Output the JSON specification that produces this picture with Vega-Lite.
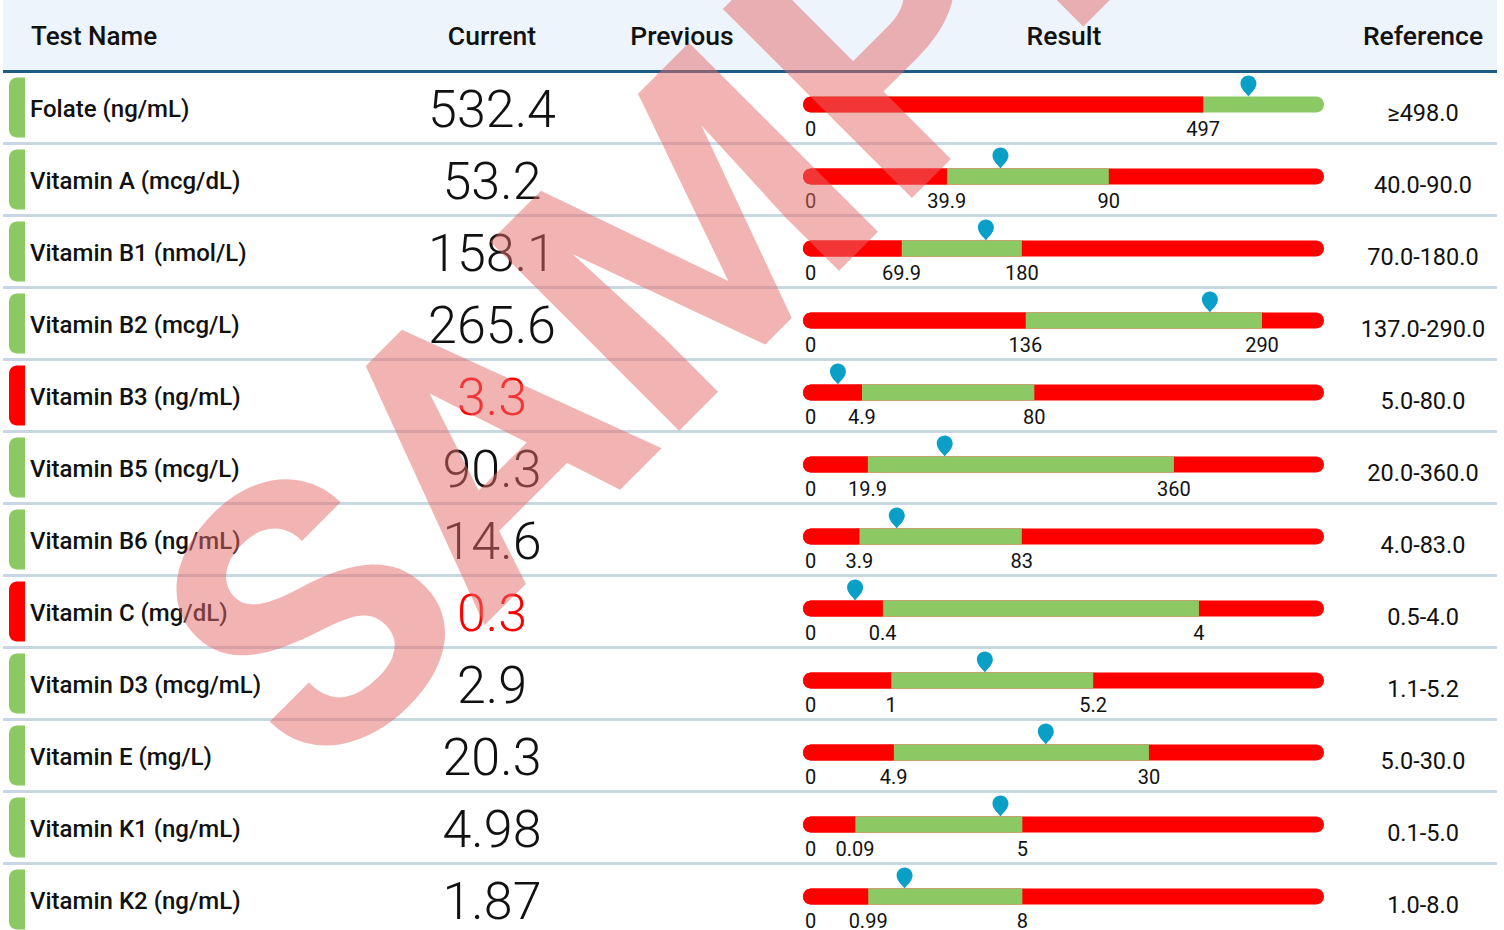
{
  "$schema": "https://vega.github.io/schema/vega-lite/v6.json",
  "width": 1504,
  "height": 930,
  "padding": 0,
  "autosize": "none",
  "background": "#ffffff",
  "config": {"view": {"stroke": null}, "font": "Roboto"},
  "datasets": {
    "header": [
      {"r": "H", "col": "Test Name", "ci": 3},
      {"r": "H", "col": "Current", "ci": 4},
      {"r": "H", "col": "Previous", "ci": 5},
      {"r": "H", "col": "Result", "ci": 6},
      {"r": "H", "col": "Reference", "ci": 7}
    ],
    "tests": [
      {"r": "Folate (ng/mL)", "current": 532.4, "flag": "normal", "lo": 497, "hi": null, "lo_pos": 76.8, "hi_pos": null, "mark_pos": 85.5, "reference": "≥498.0"},
      {"r": "Vitamin A (mcg/dL)", "current": 53.2, "flag": "normal", "lo": 39.9, "hi": 90, "lo_pos": 27.6, "hi_pos": 58.7, "mark_pos": 37.9, "reference": "40.0-90.0"},
      {"r": "Vitamin B1 (nmol/L)", "current": 158.1, "flag": "normal", "lo": 69.9, "hi": 180, "lo_pos": 18.9, "hi_pos": 42.0, "mark_pos": 35.1, "reference": "70.0-180.0"},
      {"r": "Vitamin B2 (mcg/L)", "current": 265.6, "flag": "normal", "lo": 136, "hi": 290, "lo_pos": 42.7, "hi_pos": 88.1, "mark_pos": 78.1, "reference": "137.0-290.0"},
      {"r": "Vitamin B3 (ng/mL)", "current": 3.3, "flag": "low", "lo": 4.9, "hi": 80, "lo_pos": 11.3, "hi_pos": 44.4, "mark_pos": 6.7, "reference": "5.0-80.0"},
      {"r": "Vitamin B5 (mcg/L)", "current": 90.3, "flag": "normal", "lo": 19.9, "hi": 360, "lo_pos": 12.4, "hi_pos": 71.2, "mark_pos": 27.2, "reference": "20.0-360.0"},
      {"r": "Vitamin B6 (ng/mL)", "current": 14.6, "flag": "normal", "lo": 3.9, "hi": 83, "lo_pos": 10.8, "hi_pos": 42.0, "mark_pos": 18.0, "reference": "4.0-83.0"},
      {"r": "Vitamin C (mg/dL)", "current": 0.3, "flag": "low", "lo": 0.4, "hi": 4, "lo_pos": 15.3, "hi_pos": 76.0, "mark_pos": 10.0, "reference": "0.5-4.0"},
      {"r": "Vitamin D3 (mcg/mL)", "current": 2.9, "flag": "normal", "lo": 1, "hi": 5.2, "lo_pos": 16.9, "hi_pos": 55.7, "mark_pos": 34.9, "reference": "1.1-5.2"},
      {"r": "Vitamin E (mg/L)", "current": 20.3, "flag": "normal", "lo": 4.9, "hi": 30, "lo_pos": 17.4, "hi_pos": 66.4, "mark_pos": 46.6, "reference": "5.0-30.0"},
      {"r": "Vitamin K1 (ng/mL)", "current": 4.98, "flag": "normal", "lo": 0.09, "hi": 5, "lo_pos": 10.0, "hi_pos": 42.1, "mark_pos": 37.9, "reference": "0.1-5.0"},
      {"r": "Vitamin K2 (ng/mL)", "current": 1.87, "flag": "normal", "lo": 0.99, "hi": 8, "lo_pos": 12.5, "hi_pos": 42.1, "mark_pos": 19.5, "reference": "1.0-8.0"}
    ]
  },
  "resolve": {"scale": {"x": "independent"}},
  "layer": [
    {
      "data": {"name": "header"},
      "transform": [{"filter": "datum.ci == 3"}],
      "mark": {"type": "bar", "color": "#EDF4FC"},
      "encoding": {
        "y": {"field": "r", "type": "nominal", "axis": null, "scale": {"domain": ["H", "Folate (ng/mL)", "Vitamin A (mcg/dL)", "Vitamin B1 (nmol/L)", "Vitamin B2 (mcg/L)", "Vitamin B3 (ng/mL)", "Vitamin B5 (mcg/L)", "Vitamin B6 (ng/mL)", "Vitamin C (mg/dL)", "Vitamin D3 (mcg/mL)", "Vitamin E (mg/L)", "Vitamin K1 (ng/mL)", "Vitamin K2 (ng/mL)"], "range": [-0.5, 935.5], "paddingInner": 0, "paddingOuter": 0}},
        "x": {"datum": 0, "type": "quantitative", "axis": null, "scale": {"domain": [0, 1, 2, 3, 4, 5, 6, 7, 8], "range": [3, 9, 25, 31, 493, 682, 1064, 1423, 1497], "nice": false, "zero": false}},
        "x2": {"datum": 8}
      }
    },
    {
      "data": {"name": "tests"},
      "mark": {"type": "rule", "color": "#C8D8E2", "strokeWidth": 3, "yOffset": 36},
      "encoding": {
        "y": {"field": "r", "type": "nominal", "axis": null},
        "x": {"datum": 0, "type": "quantitative", "axis": null, "scale": {"domain": [0, 1, 2, 3, 4, 5, 6, 7, 8], "range": [3, 9, 25, 31, 493, 682, 1064, 1423, 1497], "nice": false, "zero": false}},
        "x2": {"datum": 8}
      }
    },
    {
      "data": {"name": "header"},
      "transform": [{"filter": "datum.ci == 3"}],
      "mark": {"type": "rule", "color": "#1D5B85", "strokeWidth": 3, "yOffset": 36},
      "encoding": {
        "y": {"field": "r", "type": "nominal", "axis": null},
        "x": {"datum": 0, "type": "quantitative", "axis": null, "scale": {"domain": [0, 1, 2, 3, 4, 5, 6, 7, 8], "range": [3, 9, 25, 31, 493, 682, 1064, 1423, 1497], "nice": false, "zero": false}},
        "x2": {"datum": 8}
      }
    },
    {
      "data": {"name": "tests"},
      "mark": {"type": "bar", "height": 60, "cornerRadiusTopLeft": 10, "cornerRadiusBottomLeft": 10},
      "encoding": {
        "y": {"field": "r", "type": "nominal", "axis": null},
        "x": {"datum": 1, "type": "quantitative", "axis": null, "scale": {"domain": [0, 1, 2, 3, 4, 5, 6, 7, 8], "range": [3, 9, 25, 31, 493, 682, 1064, 1423, 1497], "nice": false, "zero": false}},
        "x2": {"datum": 2},
        "color": {"condition": {"test": "datum.flag == 'low'", "value": "#FF0000"}, "value": "#8CC863"}
      }
    },
    {
      "data": {"name": "header"},
      "transform": [{"filter": "datum.ci == 3"}],
      "mark": {"type": "text", "align": "left", "baseline": "alphabetic", "dy": 9.5, "fontSize": 26, "fontWeight": 500, "color": "#111111"},
      "encoding": {
        "y": {"field": "r", "type": "nominal", "axis": null},
        "x": {"field": "ci", "type": "quantitative", "axis": null, "scale": {"domain": [0, 1, 2, 3, 4, 5, 6, 7, 8], "range": [3, 9, 25, 31, 493, 682, 1064, 1423, 1497], "nice": false, "zero": false}},
        "text": {"field": "col", "type": "nominal"}
      }
    },
    {
      "data": {"name": "header"},
      "transform": [{"filter": "datum.ci != 3"}],
      "mark": {"type": "text", "align": "center", "baseline": "alphabetic", "dy": 9.5, "fontSize": 26.5, "fontWeight": 500, "color": "#111111"},
      "encoding": {
        "y": {"field": "r", "type": "nominal", "axis": null},
        "x": {"field": "ci", "type": "quantitative", "axis": null, "scale": {"domain": [0, 1, 2, 3, 4, 5, 6, 7, 8], "range": [3, 9, 25, 31, 492, 682, 1064, 1423, 1497], "nice": false, "zero": false}},
        "text": {"field": "col", "type": "nominal"}
      }
    },
    {
      "data": {"name": "tests"},
      "mark": {"type": "text", "align": "left", "baseline": "alphabetic", "dy": 9.2, "fontSize": 24, "fontWeight": 500, "color": "#111111"},
      "encoding": {
        "y": {"field": "r", "type": "nominal", "axis": null},
        "x": {"datum": 3, "type": "quantitative", "axis": null, "scale": {"domain": [0, 1, 2, 3, 4, 5, 6, 7, 8], "range": [3, 9, 25, 30, 493, 682, 1064, 1423, 1497], "nice": false, "zero": false}},
        "text": {"field": "r", "type": "nominal"}
      }
    },
    {
      "data": {"name": "tests"},
      "mark": {"type": "text", "align": "center", "baseline": "alphabetic", "dy": 19.2, "fontSize": 52, "fontWeight": 300},
      "encoding": {
        "y": {"field": "r", "type": "nominal", "axis": null},
        "x": {"datum": 4, "type": "quantitative", "axis": null, "scale": {"domain": [0, 1, 2, 3, 4, 5, 6, 7, 8], "range": [3, 9, 25, 31, 492, 682, 1064, 1423, 1497], "nice": false, "zero": false}},
        "text": {"field": "current", "type": "nominal"},
        "color": {"condition": {"test": "datum.flag == 'low'", "value": "#FF0000"}, "value": "#111111"}
      }
    },
    {
      "data": {"name": "tests"},
      "mark": {"type": "text", "align": "center", "baseline": "alphabetic", "dy": 13.5, "fontSize": 23.5, "fontWeight": 400, "color": "#111111"},
      "encoding": {
        "y": {"field": "r", "type": "nominal", "axis": null},
        "x": {"datum": 7, "type": "quantitative", "axis": null, "scale": {"domain": [0, 1, 2, 3, 4, 5, 6, 7, 8], "range": [3, 9, 25, 31, 493, 682, 1064, 1423, 1497], "nice": false, "zero": false}},
        "text": {"field": "reference", "type": "nominal"}
      }
    },
    {
      "data": {"name": "tests"},
      "mark": {"type": "bar", "height": 16, "yOffset": -3, "cornerRadius": 8},
      "encoding": {
        "y": {"field": "r", "type": "nominal", "axis": null},
        "x": {"datum": 0, "type": "quantitative", "axis": null, "scale": {"domain": [0, 100], "range": [803, 1324], "nice": false, "zero": false}},
        "x2": {"datum": 100},
        "color": {"condition": {"test": "datum.hi_pos == null", "value": "#8CC863"}, "value": "#FF0000"}
      }
    },
    {
      "data": {"name": "tests"},
      "transform": [{"filter": "datum.hi_pos != null"}],
      "mark": {"type": "bar", "height": 16, "yOffset": -3, "color": "#8CC863"},
      "encoding": {
        "y": {"field": "r", "type": "nominal", "axis": null},
        "x": {"field": "lo_pos", "type": "quantitative", "axis": null, "scale": {"domain": [0, 100], "range": [803, 1324], "nice": false, "zero": false}},
        "x2": {"field": "hi_pos"}
      }
    },
    {
      "data": {"name": "tests"},
      "mark": {"type": "bar", "height": 16, "yOffset": -3, "color": "#FF0000", "cornerRadiusTopLeft": 8, "cornerRadiusBottomLeft": 8},
      "encoding": {
        "y": {"field": "r", "type": "nominal", "axis": null},
        "x": {"field": "lo_pos", "type": "quantitative", "axis": null, "scale": {"domain": [0, 100], "range": [803, 1324], "nice": false, "zero": false}},
        "x2": {"datum": 0}
      }
    },
    {
      "data": {"name": "tests"},
      "mark": {"type": "text", "align": "left", "baseline": "alphabetic", "dx": 2, "dy": 28, "fontSize": 20, "color": "#111111", "text": "0"},
      "encoding": {
        "y": {"field": "r", "type": "nominal", "axis": null},
        "x": {"datum": 0, "type": "quantitative", "axis": null, "scale": {"domain": [0, 100], "range": [803, 1324], "nice": false, "zero": false}}
      }
    },
    {
      "data": {"name": "tests"},
      "mark": {"type": "text", "align": "center", "baseline": "alphabetic", "dy": 28, "fontSize": 20, "color": "#111111"},
      "encoding": {
        "y": {"field": "r", "type": "nominal", "axis": null},
        "x": {"field": "lo_pos", "type": "quantitative", "axis": null, "scale": {"domain": [0, 100], "range": [803, 1324], "nice": false, "zero": false}},
        "text": {"field": "lo", "type": "nominal"}
      }
    },
    {
      "data": {"name": "tests"},
      "transform": [{"filter": "datum.hi != null"}],
      "mark": {"type": "text", "align": "center", "baseline": "alphabetic", "dy": 28, "fontSize": 20, "color": "#111111"},
      "encoding": {
        "y": {"field": "r", "type": "nominal", "axis": null},
        "x": {"field": "hi_pos", "type": "quantitative", "axis": null, "scale": {"domain": [0, 100], "range": [803, 1324], "nice": false, "zero": false}},
        "text": {"field": "hi", "type": "nominal"}
      }
    },
    {
      "data": {"name": "tests"},
      "mark": {"type": "point", "shape": "M0,1 C-0.25,0.62 -0.76,0.3 -0.76,-0.24 A0.76,0.76 0 1 1 0.76,-0.24 C0.76,0.3 0.25,0.62 0,1 Z", "size": 441, "filled": true, "opacity": 1, "color": "#0A9FC7", "yOffset": -21.5},
      "encoding": {
        "y": {"field": "r", "type": "nominal", "axis": null},
        "x": {"field": "mark_pos", "type": "quantitative", "axis": null, "scale": {"domain": [0, 100], "range": [803, 1324], "nice": false, "zero": false}}
      }
    },
    {
      "data": {"values": [{"label": "SAMPLE", "r": "Vitamin B1 (nmol/L)"}]},
      "mark": {"type": "text", "align": "center", "baseline": "middle", "angle": -45, "fontSize": 376, "fontWeight": "bold", "color": "#E66A6A", "opacity": 0.5, "xOffset": 78, "yOffset": -61.5},
      "encoding": {
        "y": {"field": "r", "type": "nominal", "axis": null},
        "x": {"datum": 5, "type": "quantitative", "axis": null, "scale": {"domain": [0, 1, 2, 3, 4, 5, 6, 7, 8], "range": [3, 9, 25, 31, 493, 682, 1064, 1423, 1497], "nice": false, "zero": false}},
        "text": {"field": "label", "type": "nominal"}
      }
    }
  ]
}
